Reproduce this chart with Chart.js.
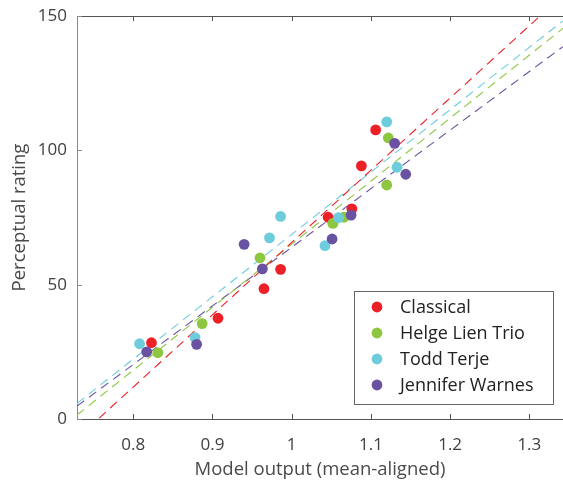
<!DOCTYPE html>
<html>
<head>
<meta charset="utf-8">
<script src="https://cdn.jsdelivr.net/npm/chart.js@4.4.1/dist/chart.umd.min.js"></script>
<style>
  html, body { margin: 0; padding: 0; background: #ffffff; }
  #wrap { width: 563px; height: 481px; }
</style>
</head>
<body>
<div id="wrap"><canvas id="c" width="563" height="481"></canvas></div>
<script>
// Series labels and colours
const seriesNames = ["Classical", "Helge Lien Trio", "Todd Terje", "Jennifer Warnes"];
const seriesColors = ["#ec2027", "#8dc63f", "#6dcddc", "#6a52a2"];

// Model output (x) and perceptual rating (y) per recording
const classicalX = [1.106, 1.088, 1.076, 1.046, 0.986, 0.965, 0.907, 0.823];
const classicalY = [107.6, 94.2, 78.2, 75.1, 55.7, 48.5, 37.5, 28.4];

const helgeX = [1.122, 1.120, 1.066, 1.052, 0.960, 0.887, 0.831];
const helgeY = [104.6, 87.1, 75.1, 72.8, 60.0, 35.5, 24.7];

const toddX = [1.120, 1.133, 1.059, 1.042, 0.986, 0.972, 0.878, 0.808];
const toddY = [110.6, 93.7, 74.9, 64.5, 75.4, 67.4, 30.3, 28.0];

const jenniferX = [1.130, 1.144, 1.075, 1.051, 0.940, 0.963, 0.880, 0.817];
const jenniferY = [102.6, 91.1, 75.9, 67.0, 65.0, 55.9, 27.8, 25.0];

// Axis range and tick labels
const xRange = [0.729, 1.3425];
const yRange = [0, 150];
const xTicks = [0.8, 0.9, 1.0, 1.1, 1.2, 1.3];
const yTicks = [0, 50, 100, 150];

// Fitted lines: rating at the left and right ends of the x range
const fitClassical = [-7.2, 157.8];
const fitHelge = [1.5, 145.4];
const fitTodd = [5.8, 148.2];
const fitJennifer = [4.8, 138.6];

const FONT = "'Open Sans', 'DejaVu Sans', sans-serif";

const xs = [classicalX, helgeX, toddX, jenniferX];
const ys = [classicalY, helgeY, toddY, jenniferY];
const fits = [fitClassical, fitHelge, fitTodd, fitJennifer];

const datasets = [];
seriesNames.forEach((name, i) => {
  datasets.push({
    type: "scatter",
    label: name,
    data: xs[i].map((x, k) => ({ x: x, y: ys[i][k] })),
    backgroundColor: seriesColors[i],
    borderWidth: 0,
    pointRadius: 5.4,
    pointHoverRadius: 5.4,
    order: 4 - i
  });
});
seriesNames.forEach((name, i) => {
  datasets.push({
    type: "line",
    label: name + " fit",
    data: [{ x: xRange[0], y: fits[i][0] }, { x: xRange[1], y: fits[i][1] }],
    borderColor: seriesColors[i],
    borderWidth: 1.1,
    borderDash: [9, 6],
    pointRadius: 0,
    fill: false,
    order: 10 + i
  });
});

// Inward tick marks, the top frame line and the boxed legend
const framePlugin = {
  id: "frame",
  afterDraw(chart) {
    const ctx = chart.ctx;
    const a = chart.chartArea;
    const sx = chart.scales.x, sy = chart.scales.y;
    ctx.save();
    ctx.lineWidth = 1;
    ctx.strokeStyle = "#555555";
    ctx.beginPath();
    ctx.moveTo(a.left, a.top + 0.5);
    ctx.lineTo(a.right, a.top + 0.5);
    xTicks.forEach(v => {
      const p = Math.round(sx.getPixelForValue(v)) + 0.5;
      ctx.moveTo(p, a.bottom);
      ctx.lineTo(p, a.bottom - 5);
      ctx.moveTo(p, a.top);
      ctx.lineTo(p, a.top + 5);
    });
    ctx.stroke();
    ctx.strokeStyle = "#8a8a8a";
    ctx.beginPath();
    yTicks.forEach(v => {
      const p = Math.round(sy.getPixelForValue(v)) + 0.5;
      ctx.moveTo(a.left, p);
      ctx.lineTo(a.left + 5, p);
    });
    ctx.stroke();

    // legend box
    const bx = 354.5, by = 291.5, bw = 199, bh = 113;
    ctx.fillStyle = "#ffffff";
    ctx.fillRect(bx, by, bw, bh);
    ctx.strokeStyle = "#666666";
    ctx.strokeRect(bx, by, bw, bh);
    ctx.font = "18px " + FONT;
    ctx.textBaseline = "middle";
    ctx.textAlign = "left";
    seriesNames.forEach((name, i) => {
      const cy = 307 + i * 26;
      ctx.fillStyle = seriesColors[i];
      ctx.beginPath();
      ctx.arc(377, cy, 5.4, 0, Math.PI * 2);
      ctx.fill();
      ctx.fillStyle = "#222222";
      ctx.fillText(name, 400, cy + 1);
    });
    ctx.restore();
  }
};

new Chart(document.getElementById("c"), {
  data: { datasets: datasets },
  options: {
    responsive: false,
    animation: false,
    events: [],
    layout: { autoPadding: false, padding: { top: 16, right: 0, left: 0, bottom: 0 } },
    plugins: { legend: { display: false }, tooltip: { enabled: false } },
    scales: {
      x: {
        type: "linear",
        position: "bottom",
        min: xRange[0],
        max: xRange[1],
        afterBuildTicks: s => { s.ticks = xTicks.map(v => ({ value: v })); },
        afterFit: s => { s.height = 62; s.paddingLeft = 0; s.paddingRight = 0; },
        grid: { display: false, drawTicks: false },
        border: { color: "#555555", width: 1 },
        ticks: {
          padding: 16,
          color: "#404040",
          font: { family: FONT, size: 17 },
          callback: v => String(Math.round(v * 10) / 10)
        },
        title: {
          display: true,
          text: "Model output (mean-aligned)",
          color: "#4a4a4a",
          font: { family: FONT, size: 18.5 },
          padding: { top: 0, bottom: 0 }
        }
      },
      y: {
        type: "linear",
        min: yRange[0],
        max: yRange[1],
        afterBuildTicks: s => { s.ticks = yTicks.map(v => ({ value: v })); },
        afterFit: s => { s.width = 77; s.paddingTop = 0; s.paddingBottom = 0; },
        grid: { display: false, drawTicks: false },
        border: { color: "#8a8a8a", width: 1 },
        ticks: {
          padding: 10,
          color: "#404040",
          font: { family: FONT, size: 17 }
        },
        title: {
          display: true,
          text: "Perceptual rating",
          color: "#4a4a4a",
          font: { family: FONT, size: 18.5 },
          padding: { top: 9, bottom: 0 }
        }
      }
    }
  },
  plugins: [framePlugin]
});
</script>
</body>
</html>
